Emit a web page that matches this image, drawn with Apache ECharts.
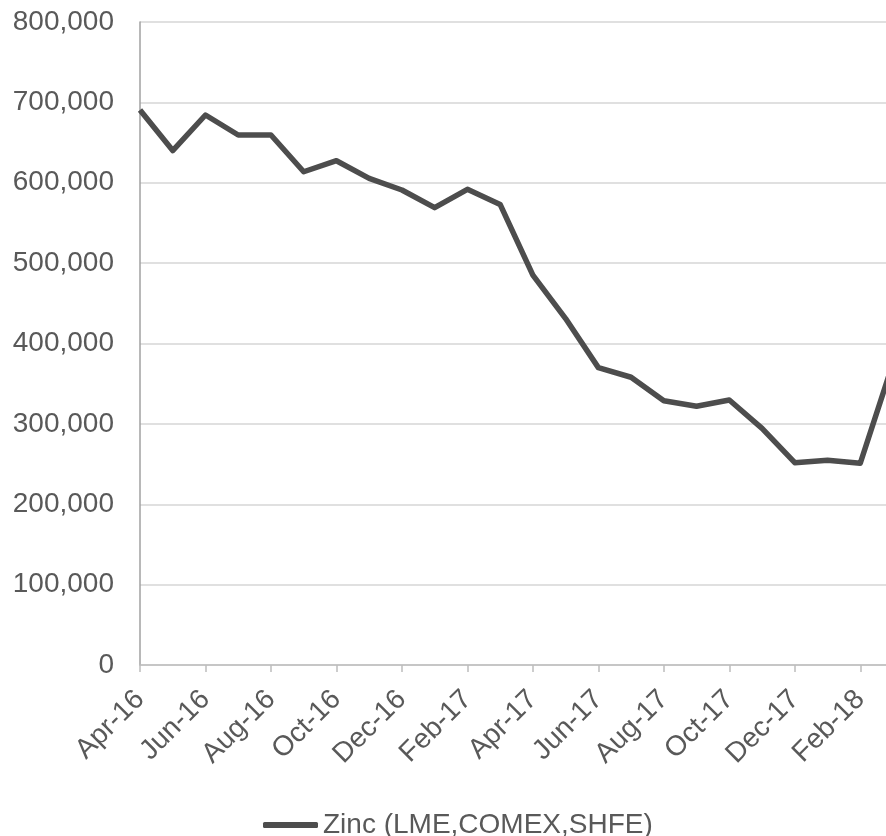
<!DOCTYPE html>
<html>
<head>
<meta charset="utf-8">
<style>
  html, body { margin: 0; padding: 0; background: #ffffff; }
  #chart { width: 886px; height: 836px; }
</style>
<script src="https://cdn.jsdelivr.net/npm/echarts@6/dist/echarts.min.js"></script>
</head>
<body>
<div id="chart"></div>
<script>
// Monthly exchange stocks, Apr 2016 – Mar 2018 (tonnes)
const months = [
  'Apr-16', 'May-16', 'Jun-16', 'Jul-16', 'Aug-16', 'Sep-16',
  'Oct-16', 'Nov-16', 'Dec-16', 'Jan-17', 'Feb-17', 'Mar-17',
  'Apr-17', 'May-17', 'Jun-17', 'Jul-17', 'Aug-17', 'Sep-17',
  'Oct-17', 'Nov-17', 'Dec-17', 'Jan-18', 'Feb-18', 'Mar-18'
];
const zincStocks = [
  690500, 640000, 684300, 659400, 659400, 613700,
  627400, 605500, 591000, 569000, 591800, 573000,
  485000, 431000, 370000, 358000, 328800, 322000,
  329700, 294500, 251700, 254700, 251000, 376000
];
const seriesName = 'Zinc (LME,COMEX,SHFE)';
const yTicks = { min: 0, max: 800000, step: 100000 };

const textColor = '#595959';
const fontFamily = '"Liberation Sans", Arial, sans-serif';

const chart = echarts.init(document.getElementById('chart'), null, { renderer: 'canvas' });
chart.setOption({
  animation: false,
  backgroundColor: '#ffffff',
  // the last month sits just past the right edge of the canvas
  grid: {
    left: 140, width: 753, top: 22, bottom: 171,
    containLabel: false,
    outerBoundsMode: 'none'
  },
  legend: {
    data: [seriesName],
    left: 258,
    top: 806,
    icon: 'roundRect',
    itemWidth: 55,
    itemHeight: 6,
    textStyle: { color: textColor, fontSize: 28, fontFamily: fontFamily }
  },
  xAxis: {
    type: 'category',
    data: months,
    boundaryGap: false,
    axisLine: { show: true, lineStyle: { color: '#bdbdbd', width: 1.5 } },
    axisTick: { show: true, interval: 1, length: 7, lineStyle: { color: '#bdbdbd', width: 1.5 } },
    axisLabel: {
      interval: 1,
      rotate: 45,
      margin: 30,
      color: textColor,
      fontSize: 28,
      fontFamily: fontFamily
    },
    splitLine: { show: false }
  },
  yAxis: {
    type: 'value',
    min: yTicks.min,
    max: yTicks.max,
    interval: yTicks.step,
    axisLine: { show: true, lineStyle: { color: '#a0a0a0', width: 1.5 } },
    axisTick: { show: false },
    axisLabel: {
      margin: 26,
      color: textColor,
      fontSize: 28,
      fontFamily: fontFamily,
      formatter: v => v.toLocaleString('en-US')
    },
    splitLine: { show: true, lineStyle: { color: '#d6d6d6', width: 1.5 } }
  },
  series: [{
    name: seriesName,
    type: 'line',
    data: zincStocks,
    showSymbol: false,
    symbol: 'none',
    lineStyle: { color: '#4d4d4d', width: 5.5, join: 'round' },
    itemStyle: { color: '#4d4d4d' },
    clip: true
  }]
});
</script>
</body>
</html>
